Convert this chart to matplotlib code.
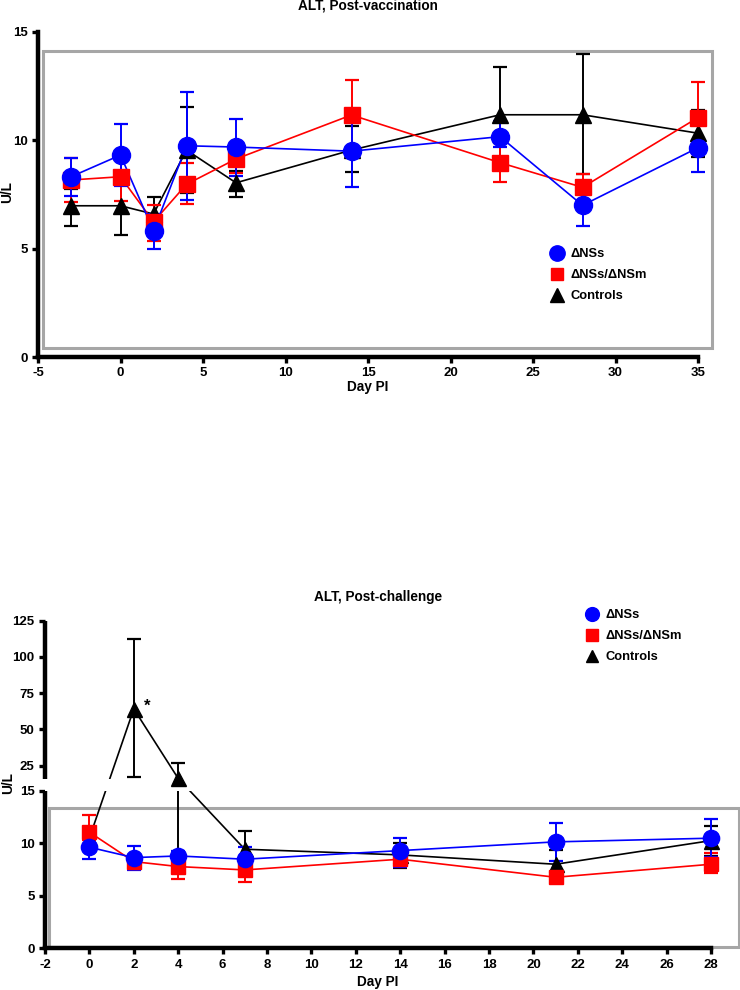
import numpy as np
import matplotlib
matplotlib.use("Agg")
import matplotlib.pyplot as plt
from matplotlib.lines import Line2D
from matplotlib.patches import Rectangle

plt.rcParams['font.family'] = ['Liberation Sans', 'DejaVu Sans']
plt.rcParams['font.weight'] = 'bold'
plt.rcParams['axes.unicode_minus'] = False

# ---- post-vaccination ----
vac_days = [-3, 0, 2, 4, 7, 14, 23, 28, 35]
vac_ns = [8.32, 9.32, 5.82, 9.75, 9.69, 9.5, 10.17, 7.0, 9.66]
vac_ns_lo = [7.45, 7.9, 5.0, 7.24, 8.35, 7.86, 9.7, 6.06, 8.55]
vac_ns_hi = [9.2, 10.74, 6.6, 12.25, 11.0, 11.15, 10.9, 7.9, 10.7]
vac_nsm = [8.17, 8.32, 6.24, 7.97, 9.14, 11.17, 8.97, 7.83, 11.05]
vac_nsm_lo = [7.15, 7.2, 5.35, 7.05, 8.5, 9.55, 8.09, 7.2, 9.37]
vac_nsm_hi = [9.2, 9.4, 7.0, 8.95, 9.8, 12.79, 9.87, 8.45, 12.71]
vac_ctl = [6.98, 6.98, 6.6, 9.55, 8.04, 9.55, 11.18, 11.18, 10.33]
vac_ctl_lo = [6.04, 5.62, 5.8, 7.55, 7.37, 8.52, 8.95, 8.45, 9.25]
vac_ctl_hi = [7.75, 8.2, 7.4, 11.55, 8.6, 10.66, 13.4, 14.0, 11.4]

# ---- post-challenge ----
chal_days = [0, 2, 4, 7, 14, 21, 28]
chal_ns = [9.62, 8.63, 8.79, 8.48, 9.3, 10.13, 10.48]
chal_ns_lo = [8.54, 7.46, 8.3, 7.14, 7.78, 8.32, 8.73]
chal_ns_hi = [10.8, 9.78, 9.3, 9.68, 10.54, 11.97, 12.29]
chal_nsm = [11.05, 8.25, 7.78, 7.46, 8.48, 6.76, 8.0]
chal_nsm_lo = [10.3, 7.6, 6.63, 6.29, 7.75, 6.3, 7.14]
chal_nsm_hi = [12.67, 8.9, 8.9, 8.6, 9.2, 7.2, 9.05]
chal_ctl = [10.5, 64.2, 16.2, 9.43, 8.89, 8.0, 10.25]
chal_ctl_lo = [9.8, 17.2, 7.5, 8.1, 7.62, 7.3, 8.8]
chal_ctl_hi = [11.2, 112.3, 26.7, 11.17, 10.0, 9.37, 11.68]

labels = ['\u0394NSs', '\u0394NSs/\u0394NSm', 'Controls']
colors = ['#0000ff', '#ff0000', '#000000']
markers = ['o', 's', '^']
msizes = [13, 11, 12]
# drawing order: controls at the back, ΔNSs on top
layer = [0.2, 0.1, 0.0]

# broken y axis for the challenge plot (piecewise linear in screen space)
brk_y = [0, 15, 15.83, 125]
brk_s = [0, 157.6, 169.3, 327.6]


def fwd(y):
    return np.interp(np.asarray(y, dtype=float), brk_y, brk_s)


def inv(s):
    return np.interp(np.asarray(s, dtype=float), brk_s, brk_y)


def yerr(m, lo, hi):
    m = np.array(m)
    return [m - np.array(lo), np.array(hi) - m]


def draw_series(ax, x, m, lo, hi, i, ms_scale=1.0):
    eb = ax.errorbar(x, m, yerr=yerr(m, lo, hi), color=colors[i], lw=1.2,
                     elinewidth=1.4, capsize=5, capthick=1.6,
                     zorder=2 + layer[i])
    for a in eb.lines[1] + eb.lines[2] + (eb.lines[0],):
        a.set_clip_on(False)
    ax.plot(x, m, ls='none', marker=markers[i], color=colors[i],
            ms=msizes[i] * ms_scale, zorder=3 + layer[i], clip_on=False)


def style(ax):
    for s in ['top', 'right']:
        ax.spines[s].set_visible(False)
    for s in ['left', 'bottom']:
        ax.spines[s].set_linewidth(3.2)
    ax.tick_params(width=2.4, length=4, labelsize=9.5)


def legend(fig, x, y, ms_scale=1.0):
    hs = [Line2D([], [], ls='none', marker=markers[i], color=colors[i],
                 ms=msizes[i] * ms_scale * 0.85) for i in range(3)]
    fig.legend(hs, labels, loc='upper left', bbox_to_anchor=(x, y),
               frameon=False, fontsize=9.3, handlelength=1.0,
               handletextpad=0.6, labelspacing=0.7, borderaxespad=0)


fig = plt.figure(figsize=(7.4, 9.9), dpi=100)

# top panel
ax1 = fig.add_axes([38 / 740, 633 / 990, 660 / 740, 325 / 990])
ax1.add_patch(Rectangle((-4.68, 0.42), 40.51, 13.71, fill=False,
                        ec='#a6a6a6', lw=2.2, clip_on=False, zorder=1))
for m, lo, hi, i in [(vac_ctl, vac_ctl_lo, vac_ctl_hi, 2),
                     (vac_nsm, vac_nsm_lo, vac_nsm_hi, 1),
                     (vac_ns, vac_ns_lo, vac_ns_hi, 0)]:
    draw_series(ax1, vac_days, m, lo, hi, i)
ax1.set_xlim(-5, 35)
ax1.set_ylim(0, 15)
ax1.set_xticks(np.arange(-5, 36, 5))
ax1.set_yticks([0, 5, 10, 15])
style(ax1)
fig.text(368 / 740, 1 - 6 / 990, 'ALT, Post-vaccination', ha='center',
         va='center', fontsize=9.8)
fig.text(7 / 740, 1 - 192 / 990, 'U/L', rotation=90, ha='center',
         va='center', fontsize=9.8)
fig.text(368 / 740, 1 - 387 / 990, 'Day PI', ha='center', va='center',
         fontsize=9.8)
legend(fig, 545 / 740, 1 - 243 / 990)

# bottom panel
ax2 = fig.add_axes([45 / 740, 41.7 / 990, 666 / 740, 327.6 / 990])
ax2.set_yscale('function', functions=(fwd, inv))
ax2.add_patch(Rectangle((-1.81, 0.15), 31.07, 13.2, fill=False,
                        ec='#a6a6a6', lw=2.2, clip_on=False, zorder=1))
for m, lo, hi, i in [(chal_ctl, chal_ctl_lo, chal_ctl_hi, 2),
                     (chal_nsm, chal_nsm_lo, chal_nsm_hi, 1),
                     (chal_ns, chal_ns_lo, chal_ns_hi, 0)]:
    draw_series(ax2, chal_days, m, lo, hi, i, ms_scale=0.9)
ax2.axhspan(15, 15.83, color='white', zorder=2.6, lw=0)
ax2.set_xlim(-2, 28)
ax2.set_ylim(0, 125)
ax2.set_xticks(np.arange(-2, 29, 2))
ax2.set_yticks([0, 5, 10, 15, 25, 50, 75, 100, 125])
ax2.yaxis.set_minor_locator(matplotlib.ticker.NullLocator())
ax2.yaxis.set_major_formatter(matplotlib.ticker.FormatStrFormatter('%d'))
style(ax2)
ax2.spines['left'].set_visible(False)
tr = ax2.get_yaxis_transform()
ax2.plot([0, 0], [0, 15], transform=tr, color='black', lw=3.2,
         clip_on=False, solid_capstyle='butt', zorder=5)
ax2.plot([0, 0], [15.83, 125], transform=tr, color='black', lw=3.2,
         clip_on=False, solid_capstyle='butt', zorder=5)
ax2.text(2.45, 66, '*', fontsize=12, ha='left', va='center')
fig.text(378 / 740, 1 - 597 / 990, 'ALT, Post-challenge', ha='center',
         va='center', fontsize=9.8)
fig.text(8.5 / 740, 1 - 783 / 990, 'U/L', rotation=90, ha='center',
         va='center', fontsize=9.8)
fig.text(378 / 740, 1 - 982 / 990, 'Day PI', ha='center', va='center',
         fontsize=9.8)
legend(fig, 580 / 740, 1 - 604 / 990, ms_scale=0.9)

fig.savefig('out.png', dpi=100)
